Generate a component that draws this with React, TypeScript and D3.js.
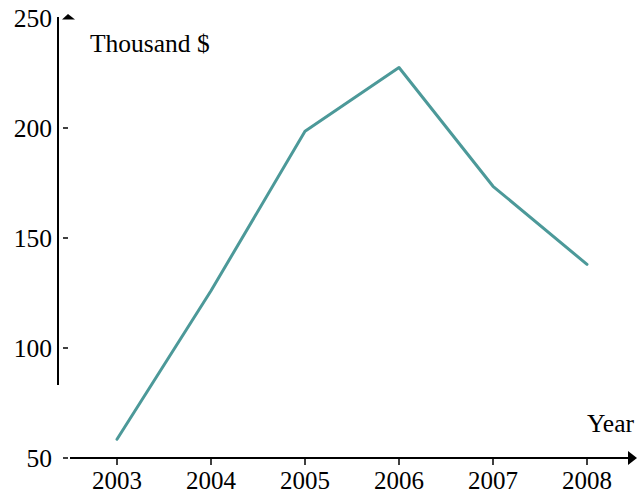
import React from "react";
import * as d3 from "d3";

const years = [2003, 2004, 2005, 2006, 2007, 2008];
const values = [58.5, 126, 198.5, 227.5, 173.5, 138];
const yTicks = [50, 100, 150, 200, 250];
const yLabel = "Thousand $";
const xLabel = "Year";

const W = 638;
const H = 495;
const FONT = "'Liberation Serif', 'Times New Roman', serif";

export default function App() {
  const x = d3.scaleLinear().domain([2003, 2008]).range([117, 587]);
  const y = d3.scaleLinear().domain([50, 250]).range([458, 18]);
  const line = d3
    .line<number>()
    .x((_, i) => x(years[i]))
    .y((d) => y(d));

  return (
    <div style={{ position: "absolute", left: 0, top: 0 }}>
      <svg width={W} height={H} style={{ display: "block" }}>
        <rect width={W} height={H} fill="#fff" />
        {/* y axis line (broken near bottom) */}
        <line x1={58} x2={58} y1={17} y2={385} stroke="#000" strokeWidth={2} />
        <path d="M62,19.5 L68,14 L75,19.5 Z" fill="#000" />
        {yTicks.map((t) => (
          <g key={t}>
            {t !== 250 && (
              <line x1={63} x2={68} y1={y(t)} y2={y(t)} stroke="#000" strokeWidth={1.5} />
            )}
            <text
              x={52}
              y={y(t)}
              textAnchor="end"
              dominantBaseline="central"
              fontFamily={FONT}
              fontSize={25.5}
              fill="#000"
            >
              {t}
            </text>
          </g>
        ))}
        {/* x axis */}
        <line x1={70} x2={630} y1={458} y2={458} stroke="#000" strokeWidth={2} />
        <path d="M628,451 L637,458 L628,465 Z" fill="#000" />
        {years.map((yr) => (
          <g key={yr}>
            <line x1={x(yr)} x2={x(yr)} y1={458} y2={465} stroke="#000" strokeWidth={1.5} />
            <text
              x={x(yr)}
              y={489}
              textAnchor="middle"
              fontFamily={FONT}
              fontSize={25}
              fill="#000"
            >
              {yr}
            </text>
          </g>
        ))}
        <text x={90} y={52} fontFamily={FONT} fontSize={25.5} fill="#000">
          {yLabel}
        </text>
        <text x={634} y={432} textAnchor="end" fontFamily={FONT} fontSize={25.5} fill="#000">
          {xLabel}
        </text>
        <path
          d={line(values) || ""}
          fill="none"
          stroke="#4c9999"
          strokeWidth={3}
          strokeLinejoin="round"
          strokeLinecap="round"
        />
      </svg>
    </div>
  );
}
